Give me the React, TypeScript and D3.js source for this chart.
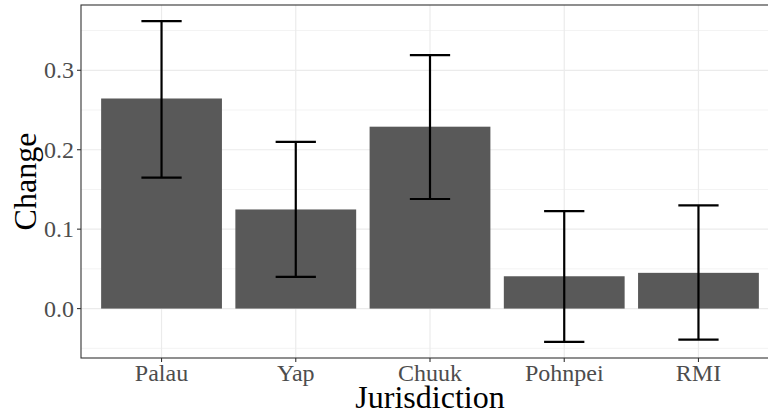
import React from "react";
import * as d3 from "d3";

const categories = ["Palau", "Yap", "Chuuk", "Pohnpei", "RMI"];
const changeValues = [0.2645, 0.1248, 0.229, 0.0407, 0.045];
const lowerValues = [0.1648, 0.04, 0.138, -0.042, -0.039];
const upperValues = [0.362, 0.21, 0.319, 0.1227, 0.13];
const yTicks = [0.0, 0.1, 0.2, 0.3];
const yMinorTicks = [-0.05, 0.05, 0.15, 0.25, 0.35];

const W = 768;
const H = 416;
const panel = { left: 81, right: 779, top: 5, bottom: 358 };

export default function App() {
  const lo = d3.min(lowerValues) as number;
  const hi = d3.max(upperValues) as number;
  const pad = (hi - lo) * 0.05;

  const x = d3
    .scalePoint<string>()
    .domain(categories)
    .range([panel.left, panel.right])
    .padding(0.6);
  const step = x.step();
  const y = d3
    .scaleLinear()
    .domain([lo - pad, hi + pad])
    .range([panel.bottom, panel.top]);

  const barW = step * 0.9;
  const capW = step * 0.3;
  const font = "'Liberation Serif', 'Times New Roman', serif";

  return (
    <div style={{ position: "fixed", left: 0, top: 0 }}>
      <svg width={W} height={H} style={{ display: "block", background: "#fff" }}>
        <defs>
          <clipPath id="panelClip">
            <rect x={panel.left} y={panel.top} width={panel.right - panel.left} height={panel.bottom - panel.top} />
          </clipPath>
        </defs>
        <g clipPath="url(#panelClip)">
          {yMinorTicks.map((t) => (
            <line key={"mn" + t} x1={panel.left} x2={panel.right} y1={y(t)} y2={y(t)} stroke="#F3F3F3" strokeWidth={1} />
          ))}
          {yTicks.map((t) => (
            <line key={"mj" + t} x1={panel.left} x2={panel.right} y1={y(t)} y2={y(t)} stroke="#EBEBEB" strokeWidth={1.2} />
          ))}
          {categories.map((c) => (
            <line key={"vx" + c} x1={x(c)} x2={x(c)} y1={panel.top} y2={panel.bottom} stroke="#EBEBEB" strokeWidth={1.2} />
          ))}
          {categories.map((c, i) => {
            const v = changeValues[i];
            return (
              <rect
                key={"bar" + c}
                x={(x(c) as number) - barW / 2}
                y={Math.min(y(v), y(0))}
                width={barW}
                height={Math.abs(y(0) - y(v))}
                fill="#595959"
              />
            );
          })}
          {categories.map((c, i) => {
            const cx = x(c) as number;
            const yl = y(lowerValues[i]);
            const yu = y(upperValues[i]);
            return (
              <g key={"err" + c} stroke="#000" strokeWidth={2.2}>
                <line x1={cx} x2={cx} y1={yl} y2={yu} />
                <line x1={cx - capW / 2} x2={cx + capW / 2} y1={yu} y2={yu} />
                <line x1={cx - capW / 2} x2={cx + capW / 2} y1={yl} y2={yl} />
              </g>
            );
          })}
        </g>
        <rect
          x={panel.left}
          y={panel.top}
          width={panel.right - panel.left}
          height={panel.bottom - panel.top}
          fill="none"
          stroke="#333333"
          strokeWidth={1.1}
        />
        {yTicks.map((t) => (
          <g key={"yt" + t}>
            <line x1={panel.left - 4} x2={panel.left} y1={y(t)} y2={y(t)} stroke="#333333" strokeWidth={1.1} />
            <text
              x={panel.left - 7}
              y={y(t)}
              dy="0.34em"
              textAnchor="end"
              fontFamily={font}
              fontSize={24}
              fill="#4D4D4D"
            >
              {d3.format(".1f")(t)}
            </text>
          </g>
        ))}
        {categories.map((c) => (
          <g key={"xt" + c}>
            <line x1={x(c)} x2={x(c)} y1={panel.bottom} y2={panel.bottom + 4} stroke="#333333" strokeWidth={1.1} />
            <text x={x(c)} y={381} textAnchor="middle" fontFamily={font} fontSize={24} fill="#4D4D4D">
              {c}
            </text>
          </g>
        ))}
        <text
          x={(panel.left + panel.right) / 2}
          y={408}
          textAnchor="middle"
          fontFamily={font}
          fontSize={32}
          fill="#000"
        >
          Jurisdiction
        </text>
        <text
          transform={`translate(36, ${(panel.top + panel.bottom) / 2}) rotate(-90)`}
          textAnchor="middle"
          fontFamily={font}
          fontSize={32}
          fill="#000"
        >
          Change
        </text>
      </svg>
    </div>
  );
}
